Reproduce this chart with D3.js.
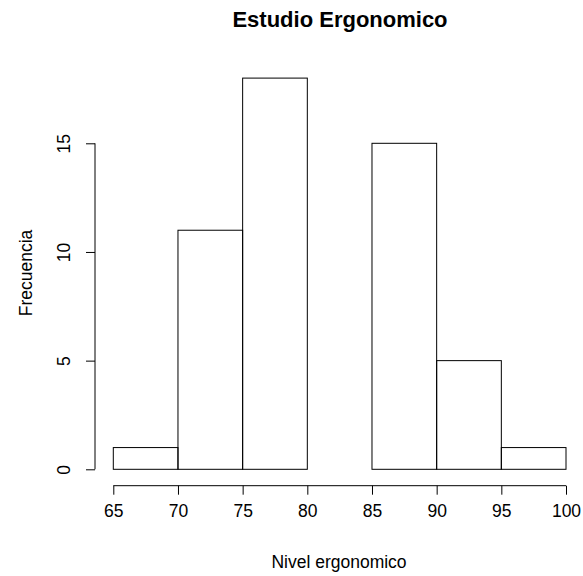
<!DOCTYPE html>
<html>
<head>
<meta charset="utf-8">
<script src="https://cdn.jsdelivr.net/npm/d3@7"></script>
<style>
  body { margin: 0; background: #fff; }
  text { font-family: "Liberation Sans", Arial, sans-serif; fill: #000; }
</style>
</head>
<body>
<svg id="chart" width="583" height="576"></svg>
<script>
// histogram bins (lower edge) and counts
var binStarts = [65, 70, 75, 80, 85, 90, 95];
var binWidth = 5;
var counts = [1, 11, 18, 0, 15, 5, 1];
var xTicks = [65, 70, 75, 80, 85, 90, 95, 100];
var yTicks = [0, 5, 10, 15];

var svg = d3.select("#chart");

var x = d3.scaleLinear().domain([65, 100]).range([113.3, 566]);
var y = d3.scaleLinear().domain([0, 15]).range([469.3, 143.3]);

// bars
svg.append("g").selectAll("rect")
  .data(binStarts)
  .enter().append("rect")
  .attr("x", function (d) { return x(d); })
  .attr("y", function (d, i) { return y(counts[i]); })
  .attr("width", function (d) { return x(d + binWidth) - x(d); })
  .attr("height", function (d, i) { return y(0) - y(counts[i]); })
  .style("fill", "none")
  .style("stroke", "#000")
  .style("stroke-width", 1);

// x axis
var xAxis = d3.axisBottom(x).tickValues(xTicks).tickSize(9).tickPadding(10).tickFormat(d3.format("d"));
var gx = svg.append("g").attr("transform", "translate(0,485.7)").call(xAxis);
gx.select(".domain").attr("d", "M" + x(65) + ",0H" + x(100));

// y axis
var yAxis = d3.axisLeft(y).tickValues(yTicks).tickSize(9).tickPadding(0).tickFormat(d3.format("d"));
var gy = svg.append("g").attr("transform", "translate(95,0)").call(yAxis);
gy.select(".domain").attr("d", "M0," + y(0) + "V" + y(15));
gy.selectAll(".tick text")
  .attr("x", 0).attr("dy", null)
  .attr("transform", "translate(-25,0) rotate(-90)")
  .style("text-anchor", "middle");

[gx, gy].forEach(function (g) {
  g.selectAll("text").style("font-family", "'Liberation Sans', Arial, sans-serif").style("font-size", "17.5px").style("fill", "#000");
  g.selectAll("line, path").style("stroke", "#000");
});

// titles
svg.append("text")
  .attr("x", 340).attr("y", 27)
  .style("text-anchor", "middle")
  .style("font-weight", "bold")
  .style("font-size", "22px")
  .text("Estudio Ergonomico");

svg.append("text")
  .attr("x", 339).attr("y", 568)
  .style("text-anchor", "middle")
  .style("font-size", "17.5px")
  .text("Nivel ergonomico");

svg.append("text")
  .attr("transform", "translate(32,273) rotate(-90)")
  .style("text-anchor", "middle")
  .style("font-size", "17.5px")
  .text("Frecuencia");
</script>
</body>
</html>
